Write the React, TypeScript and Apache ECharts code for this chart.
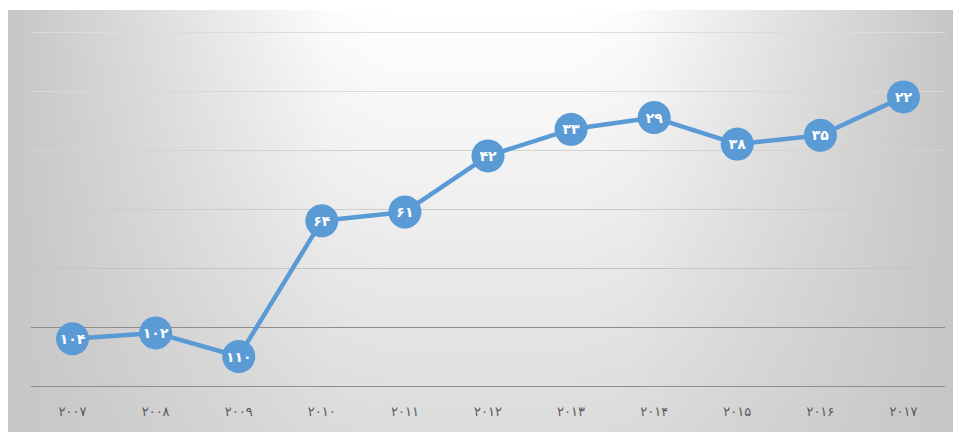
import React, { useEffect, useRef } from "react";
import * as echarts from "echarts";

const years = ["۲۰۰۷", "۲۰۰۸", "۲۰۰۹", "۲۰۱۰", "۲۰۱۱", "۲۰۱۲", "۲۰۱۳", "۲۰۱۴", "۲۰۱۵", "۲۰۱۶", "۲۰۱۷"];
const ranks = [104, 102, 110, 64, 61, 42, 33, 29, 38, 35, 22];
const gridColors = ["#dcdcdc", "#d8d8d8", "#d2d2d2", "#cccccc", "#c4c4c4", "#8e8e8e", "#8e8e8e"];

const toPersian = (n: number | string) =>
  String(n).replace(/[0-9]/g, (d) => String.fromCharCode(0x06f0 + Number(d)));

export default function App() {
  const ref = useRef<HTMLDivElement>(null);
  useEffect(() => {
    if (!ref.current) return;
    const chart = echarts.init(ref.current, undefined, { renderer: "svg" });
    chart.setOption({
      animation: false,
      backgroundColor: {
        type: "linear",
        x: 0,
        y: 0,
        x2: 1,
        y2: 0,
        colorStops: [
          { offset: 0, color: "#c6c6c6" },
          { offset: 0.16, color: "#dfdfdf" },
          { offset: 0.34, color: "#fcfcfc" },
          { offset: 0.4, color: "#ffffff" },
          { offset: 0.6, color: "#ffffff" },
          { offset: 0.66, color: "#fcfcfc" },
          { offset: 0.84, color: "#dfdfdf" },
          { offset: 1, color: "#c6c6c6" },
        ],
      },
      graphic: [
        {
          type: "rect",
          left: 0,
          top: 0,
          z: -10,
          silent: true,
          shape: { width: 945, height: 422 },
          style: {
            fill: {
              type: "linear",
              x: 0,
              y: 0,
              x2: 0,
              y2: 1,
              colorStops: [
                { offset: 0, color: "rgba(198,198,198,0)" },
                { offset: 1, color: "rgba(198,198,198,0.62)" },
              ],
            },
          },
        },
      ],
      grid: { left: 23, right: 8, top: 22, bottom: 46 },
      xAxis: {
        type: "category",
        data: years,
        boundaryGap: true,
        axisLine: { show: false, onZero: false },
        axisTick: { show: false },
        axisLabel: {
          color: "#595959",
          fontSize: 13,
          fontFamily: "DejaVu Sans",
          margin: 19,
        },
      },
      yAxis: {
        type: "value",
        inverse: true,
        min: 0,
        max: 120,
        interval: 20,
        axisLine: { show: false },
        axisTick: { show: false },
        axisLabel: { show: false },
        splitLine: { show: true, lineStyle: { color: gridColors, width: 1.2 } },
      },
      series: [
        {
          type: "line",
          data: ranks,
          symbol: "circle",
          symbolSize: 33,
          lineStyle: { color: "#5b9bd5", width: 4.5 },
          itemStyle: { color: "#5b9bd5" },
          label: {
            show: true,
            position: "inside",
            color: "#ffffff",
            fontSize: 14,
            fontWeight: "bold",
            fontFamily: "DejaVu Sans",
            formatter: (p: any) => toPersian(p.value),
          },
        },
      ],
    });
    return () => chart.dispose();
  }, []);
  return (
    <div
      ref={ref}
      style={{ position: "absolute", left: 8, top: 10, width: 945, height: 422 }}
    />
  );
}
